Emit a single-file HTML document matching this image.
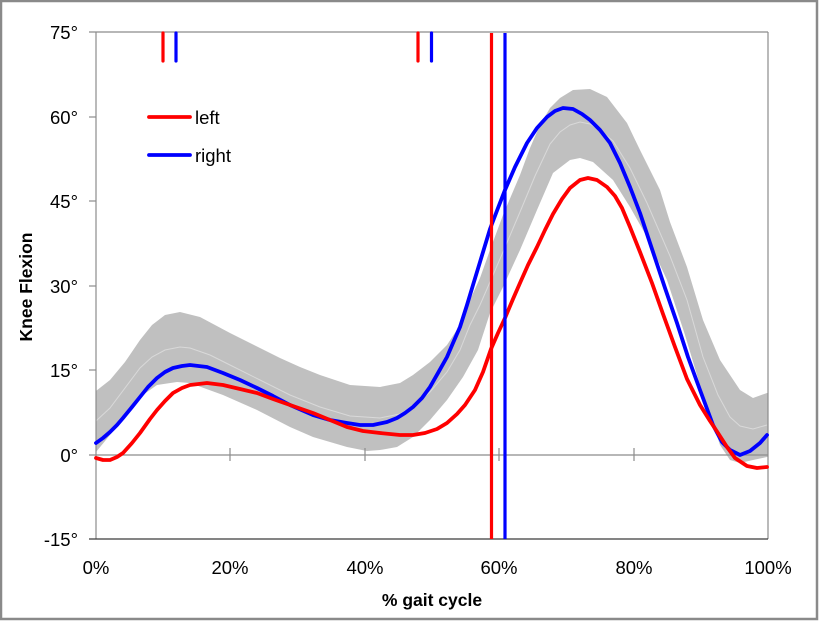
<!DOCTYPE html>
<html>
<head>
<meta charset="utf-8">
<style>
  html, body { margin: 0; padding: 0; background: #fff; }
  svg { display: block; }
  text { font-family: "Liberation Sans", Arial, sans-serif; fill: #000; }
</style>
</head>
<body>
<svg width="821" height="623" viewBox="0 0 821 623" xmlns="http://www.w3.org/2000/svg">
  <rect x="0" y="0" width="821" height="623" fill="#fff"/>
  <!-- outer border -->
  <rect x="1" y="1" width="816" height="618" fill="none" stroke="#8a8a8a" stroke-width="2.5"/>

  <!-- normal band -->
  <polygon fill="#c0c0c0" points="
    96,391 110,380 125,362 140,340 152,325 165,315 180,312 200,317 230,333 260,348 280,358 300,367 320,375 350,385 380,387 400,383 413,375 430,362 447,345 460,325 470,300 480,278 490,250 503,215 520,175 530,148 540,125 550,108 560,98 573,90 590,89 607,97 627,123 640,150 660,190 670,222 687,267 703,320 720,360 730,375 740,390 753,398 767,393
    768,393 768,457
    767,457 753,460 740,463 730,460 720,445 710,415 700,385 685,335 667,280 647,237 630,207 613,180 593,162 580,158 570,160 553,173 537,210 520,250 503,287 490,313 478,350 463,377 447,400 430,420 413,437 397,447 380,450 367,451 347,447 313,437 290,427 257,410 223,395 190,383 177,382 157,385 140,397 123,417 110,435 96,452"/>
  <!-- band center line -->
  <polyline fill="none" stroke="#d9d9d9" stroke-width="1" points="
    96,421 110,408 125,388 140,368 152,357 165,350 180,347 190,348 210,355 230,365 260,380 290,395 320,407 350,416 380,418 400,414 413,406 430,392 447,372 460,350 470,325 480,305 490,282 503,252 520,212 535,176 550,144 560,132 570,125 580,122 590,124 600,130 613,141 630,168 647,203 670,256 687,300 703,357 718,395 730,417 740,426 753,429 767,425"/>

  <!-- axes -->
  <line x1="96" y1="32" x2="96" y2="539" stroke="#8c8c8c" stroke-width="1.2"/>
  <line x1="89" y1="32" x2="768" y2="32" stroke="#8c8c8c" stroke-width="1.2"/>
  <line x1="768" y1="32" x2="768" y2="539" stroke="#8c8c8c" stroke-width="1.2"/>
  <line x1="89" y1="539" x2="768" y2="539" stroke="#3a3a3a" stroke-width="1.3"/>
  <line x1="89" y1="455" x2="768" y2="455" stroke="#8c8c8c" stroke-width="1.2"/>
  <!-- ticks -->
  <g stroke="#8c8c8c" stroke-width="1.2">
    <line x1="89" y1="117" x2="96" y2="117"/>
    <line x1="89" y1="201" x2="96" y2="201"/>
    <line x1="89" y1="286" x2="96" y2="286"/>
    <line x1="89" y1="370" x2="96" y2="370"/>
    <line x1="230" y1="448" x2="230" y2="461"/>
    <line x1="365" y1="448" x2="365" y2="461"/>
    <line x1="499" y1="448" x2="499" y2="461"/>
    <line x1="634" y1="448" x2="634" y2="461"/>
  </g>

  <!-- blue curve (right) -->
  <polyline fill="none" stroke="#0000ff" stroke-width="3.8" stroke-linejoin="round" stroke-linecap="round" points="
    96,443 103,438 110,432 117,425 123,418 132,407 140,397 148,387 157,378 165,372 173,368 182,366 190,365 207,367 223,373 240,380 257,388 273,396 290,405 313,415 330,420 347,423 360,425 373,425 387,422 397,418 405,413 413,407 422,398 430,387 438,373 447,357 453,343 460,327 467,305 473,285 480,262 490,229 498,208 505,190 515,167 527,143 537,128 547,117 555,111 563,108 573,109 582,114 590,120 600,130 610,143 620,163 630,187 640,213 653,252 665,288 677,323 688,357 700,390 713,425 722,442 730,450 740,455 750,451 760,443 767,435"/>

  <!-- red curve (left) -->
  <polyline fill="none" stroke="#ff0000" stroke-width="3.8" stroke-linejoin="round" stroke-linecap="round" points="
    96,458 103,460 110,460 117,457 123,453 132,443 140,433 150,419 157,410 165,401 173,393 182,388 190,385 207,383 223,385 240,389 257,393 273,399 290,405 313,413 330,420 347,427 363,431 380,433 400,435 413,435 425,433 437,429 447,423 457,414 465,405 475,390 483,372 491,349 498,333 505,318 513,299 520,283 528,265 537,247 545,230 553,214 562,199 570,188 580,180 588,178 597,180 607,187 615,196 622,208 630,227 640,252 652,283 663,314 675,347 687,379 700,405 710,421 718,433 727,447 735,458 747,466 757,468 767,467"/>

  <!-- event markers -->
  <g stroke-width="3.2" stroke-linecap="round">
    <line x1="163" y1="33" x2="163" y2="61" stroke="#ff0000"/>
    <line x1="176" y1="33" x2="176" y2="61" stroke="#0000ff"/>
    <line x1="418" y1="33" x2="418" y2="61" stroke="#ff0000"/>
    <line x1="431.5" y1="33" x2="431.5" y2="61" stroke="#0000ff"/>
  </g>
  <line x1="491.5" y1="33" x2="491.5" y2="539" stroke="#ff0000" stroke-width="3.2"/>
  <line x1="505" y1="33" x2="505" y2="539" stroke="#0000ff" stroke-width="3.2"/>

  <!-- legend -->
  <line x1="149" y1="117" x2="190" y2="117" stroke="#ff0000" stroke-width="3.8" stroke-linecap="round"/>
  <line x1="149" y1="155" x2="190" y2="155" stroke="#0000ff" stroke-width="3.8" stroke-linecap="round"/>
  <text x="195" y="124" font-size="18.5">left</text>
  <text x="195" y="162" font-size="18.5">right</text>

  <!-- y tick labels -->
  <g font-size="18.5" text-anchor="end">
    <text x="78" y="39">75°</text>
    <text x="78" y="124">60°</text>
    <text x="78" y="208">45°</text>
    <text x="78" y="293">30°</text>
    <text x="78" y="377">15°</text>
    <text x="78" y="462">0°</text>
    <text x="78" y="546">-15°</text>
  </g>
  <!-- x tick labels -->
  <g font-size="18.5" text-anchor="middle">
    <text x="96" y="574">0%</text>
    <text x="230" y="574">20%</text>
    <text x="365" y="574">40%</text>
    <text x="499" y="574">60%</text>
    <text x="634" y="574">80%</text>
    <text x="768" y="574">100%</text>
  </g>
  <!-- axis titles -->
  <text x="432" y="606" font-size="17.5" font-weight="bold" text-anchor="middle">% gait cycle</text>
  <text transform="translate(32,287) rotate(-90)" font-size="17.5" font-weight="bold" text-anchor="middle">Knee Flexion</text>
</svg>
</body>
</html>
